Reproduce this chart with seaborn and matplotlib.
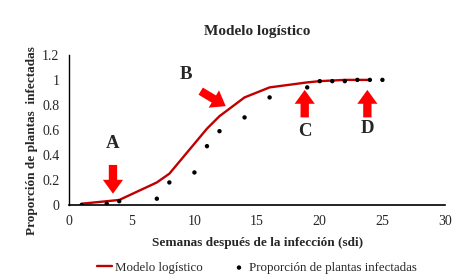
import numpy as np
import pandas as pd
import seaborn as sns
import matplotlib.pyplot as plt

# Observed proportion of infected plants (weeks after infection)
semanas_obs = [1, 3, 4, 7, 8, 10, 11, 12, 14, 16, 19, 20, 21, 22, 23, 24, 25]
proporcion_obs = [0.0, 0.01, 0.03, 0.05, 0.18, 0.26, 0.47, 0.59, 0.70, 0.86,
                  0.94, 0.99, 0.99, 0.99, 1.0, 1.0, 1.0]

# Logistic model fit
semanas_mod = [1, 3, 4, 7, 8, 10, 11, 12, 14, 16, 19, 20, 21, 22, 23, 24]
proporcion_mod = [0.01, 0.03, 0.04, 0.18, 0.25, 0.49, 0.61, 0.71, 0.86, 0.94,
                  0.98, 0.99, 0.995, 1.0, 1.0, 1.0]

# Annotations: label, arrow tail (x, y), arrow head (x, y), label position
etiquetas = ["A", "B", "C", "D"]
flecha_desde = [(3.5, 0.32), (10.5, 0.91), (18.8, 0.70), (23.8, 0.70)]
flecha_hasta = [(3.5, 0.09), (12.5, 0.79), (18.8, 0.92), (23.8, 0.92)]
pos_etiqueta = [(3.5, 0.49), (9.3, 1.04), (18.8, 0.59), (23.8, 0.61)]

df_obs = pd.DataFrame({"semanas": semanas_obs, "proporcion": proporcion_obs})
df_mod = pd.DataFrame({"semanas": semanas_mod, "proporcion": proporcion_mod})

sns.set_style("white")
plt.rcParams["font.family"] = ["Liberation Serif", "DejaVu Serif"]

fig = plt.figure(figsize=(4.67, 2.8), dpi=100)
ax = fig.add_axes([0.148, 0.268, 0.805, 0.536])

sns.lineplot(data=df_mod, x="semanas", y="proporcion", ax=ax, color="#C00000",
             linewidth=1.7, label="Modelo logístico")
sns.scatterplot(data=df_obs, x="semanas", y="proporcion", ax=ax, color="black",
                s=10, edgecolor="none", label="Proporción de plantas infectadas",
                zorder=3)

for lab, p0, p1, pt in zip(etiquetas, flecha_desde, flecha_hasta, pos_etiqueta):
    ax.annotate("", xy=p1, xytext=p0,
                arrowprops=dict(arrowstyle="simple,head_width=1.45,head_length=1.0,tail_width=0.6",
                                color="#FF0000", lw=0, shrinkA=0, shrinkB=0,
                                mutation_scale=10))
    ax.text(pt[0], pt[1], lab, ha="center", va="center", fontsize=13.5,
            fontweight="bold")

ax.set_xlim(0, 30)
ax.set_ylim(0, 1.2)
ax.set_xticks(range(0, 31, 5))
ax.set_yticks([0, 0.2, 0.4, 0.6, 0.8, 1, 1.2])
ax.set_yticklabels(["0", "0.2", "0.4", "0.6", "0.8", "1", "1.2"])
ax.tick_params(labelsize=10, length=0, pad=7)
for s in ["top", "right"]:
    ax.spines[s].set_visible(False)
ax.spines["left"].set_color("black")
ax.spines["bottom"].set_color("black")
ax.spines["left"].set_linewidth(1)
ax.spines["bottom"].set_linewidth(1.2)

ax.set_xlabel("Semanas después de la infección (sdi)", fontsize=9.5,
              fontweight="bold", labelpad=7)
ax.set_ylabel("Proporción de plantas  infectadas", fontsize=9.5,
              fontweight="bold", labelpad=3)
ax.yaxis.label.set_y(0.43)
ax.set_title("Modelo logístico", fontsize=11, fontweight="bold", pad=14)

ax.legend(loc="upper center", bbox_to_anchor=(0.5, -0.345), ncol=2, frameon=False,
          fontsize=9.3, handlelength=1.2, handletextpad=0.2, columnspacing=2.2,
          markerscale=1.0, borderaxespad=0)

fig.savefig("out.png", dpi=100)
